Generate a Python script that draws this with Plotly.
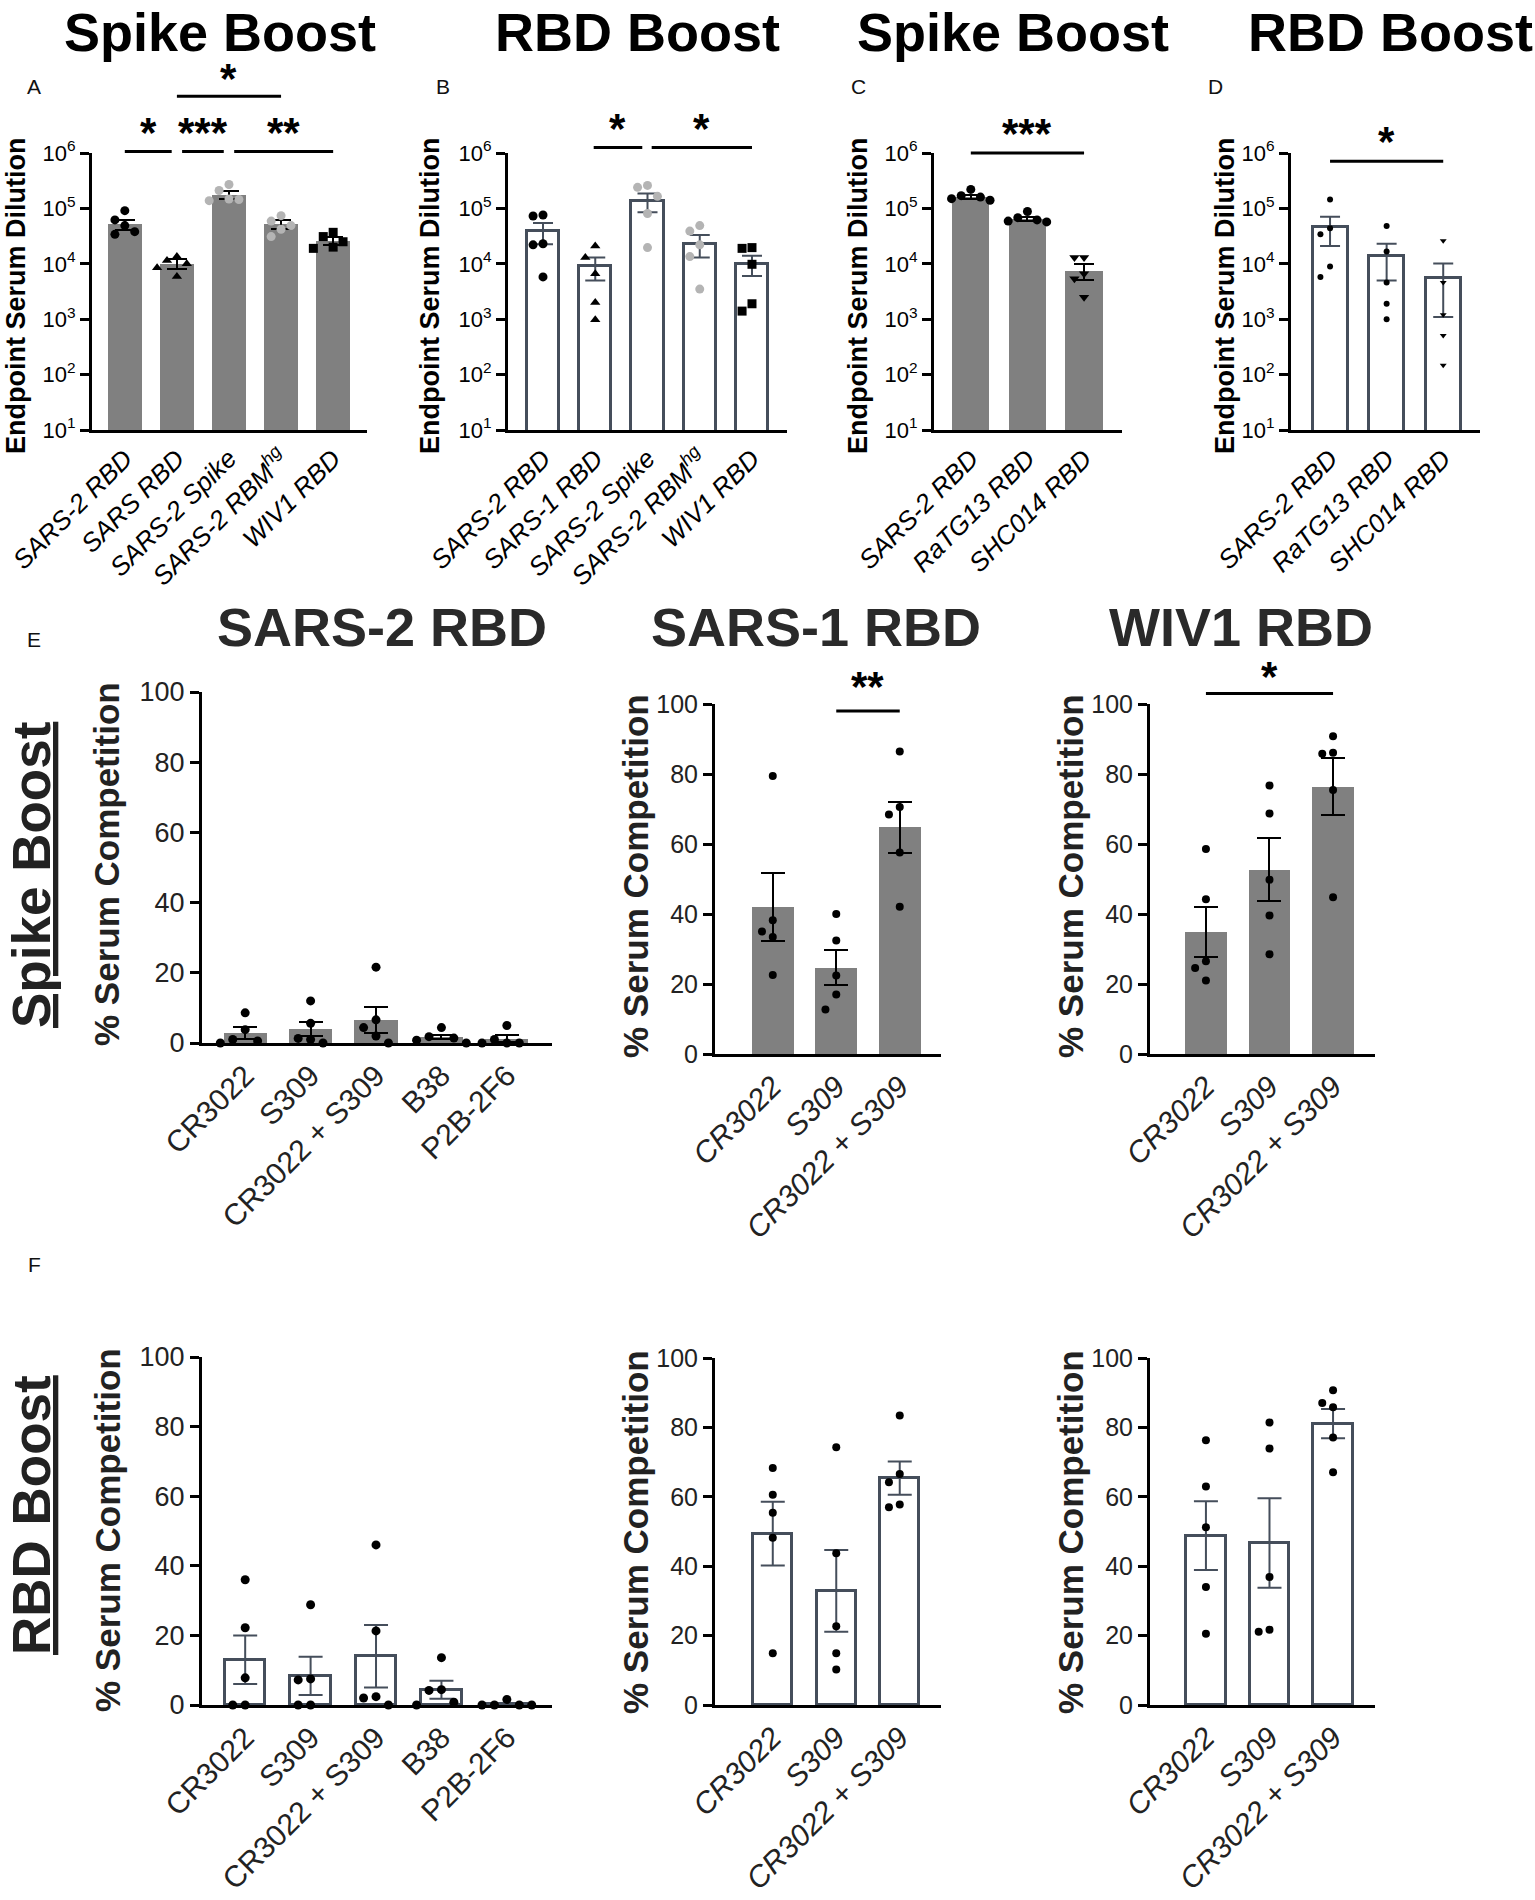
import numpy as np
import plotly.graph_objects as go

W, H = 1535, 1900
FONT = "Liberation Sans, Arial, sans-serif"
GRAY = "#808080"
LIGHT = "#b4b4b4"
SLATE = "#454e5b"

# ---- data ----
# A: spike boost, endpoint titers
a_cats = ["SARS-2 RBD", "SARS RBD", "SARS-2 Spike", "SARS-2 RBM<sup>hg</sup>", "WIV1 RBD"]
a_means = [5.2e4, 1.0e4, 1.75e5, 5.2e4, 2.6e4]
a_sems = [1.1e4, 2.0e3, 3.0e4, 1.0e4, 4.0e3]
a_pts = [[9.1e4, 6.2e4, 4.9e4, 3.8e4, 3.4e4],
         [1.35e4, 1.15e4, 1.0e4, 8.5e3, 5.9e3],
         [2.7e5, 2.1e5, 1.48e5, 1.45e5, 1.38e5],
         [7.4e4, 5.9e4, 4.9e4, 4.2e4, 3.1e4],
         [3.7e4, 3.1e4, 2.5e4, 2.0e4, 1.9e4]]

# B: RBD boost, endpoint titers
b_cats = ["SARS-2 RBD", "SARS-1 RBD", "SARS-2 Spike", "SARS-2 RBM<sup>hg</sup>", "WIV1 RBD"]
b_means = [3.85e4, 9.0e3, 1.35e5, 2.3e4, 1.0e4]
b_sems = [1.6e4, 4.0e3, 5.0e4, 1.0e4, 4.0e3]
b_pts = [[7.6e4, 7.3e4, 2.3e4, 2.2e4, 5.8e3],
         [2.1e4, 1.3e4, 6.6e3, 2.0e3, 980],
         [2.6e5, 2.4e5, 1.65e5, 8.1e4, 1.96e4],
         [4.9e4, 3.9e4, 2.2e4, 1.35e4, 3.5e3],
         [1.96e4, 1.9e4, 9.8e3, 1.9e3, 1.4e3]]

# C: spike boost, sarbecovirus RBDs
c_cats = ["SARS-2 RBD", "RaTG13 RBD", "SHC014 RBD"]
c_means = [1.62e5, 6.5e4, 7.5e3]
c_sems = [1.5e4, 5.0e3, 2.3e3]
c_pts = [[2.2e5, 1.7e5, 1.6e5, 1.5e5, 1.4e5],
         [8.8e4, 6.8e4, 6.2e4, 5.9e4, 5.7e4],
         [1.3e4, 1.3e4, 6.6e3, 5.4e3, 2.5e3]]

# D: RBD boost, sarbecovirus RBDs
d_cats = ["SARS-2 RBD", "RaTG13 RBD", "SHC014 RBD"]
d_means = [4.6e4, 1.4e4, 5.6e3]
d_sems = [2.5e4, 9.0e3, 4.5e3]
d_pts = [[1.45e5, 4.4e4, 3.4e4, 8.9e3, 5.8e3],
         [4.8e4, 1.66e4, 4.6e3, 1.9e3, 1.0e3],
         [2.6e4, 4.6e3, 1.2e3, 510, 148]]

lod = 40

# E/F: % serum competition
mab5 = ["CR3022", "S309", "CR3022 + S309", "B38", "P2B-2F6"]
mab3 = ["CR3022", "S309", "CR3022 + S309"]

e1_means = [2.8, 4.0, 6.6, 1.7, 1.2]
e1_sems = [1.7, 2.1, 3.8, 0.7, 1.0]
e1_pts = [[8.6, 3.8, 1.0, 0.6, 0], [12.0, 5.6, 1.3, 1.0, 0], [21.6, 6.6, 4.4, 2.0, 0],
          [4.4, 1.8, 1.4, 0.8, 0], [5.0, 1.0, 0, 0, 0]]
e2_means = [42.0, 24.6, 64.8]
e2_sems = [9.6, 5.0, 7.3]
e2_pts = [[79.4, 38.2, 35.0, 33.4, 22.6], [40.0, 32.4, 22.4, 17.0, 12.7], [86.4, 70.6, 68.4, 57.6, 42.1]]
e3_means = [34.8, 52.6, 76.4]
e3_sems = [7.2, 9.0, 8.2]
e3_pts = [[58.6, 44.2, 26.5, 24.6, 21.0], [76.7, 68.7, 49.8, 39.6, 28.5], [90.8, 86.1, 85.8, 75.4, 44.8]]

f1_means = [13.0, 8.4, 14.0, 4.4, 0.3]
f1_sems = [7.0, 5.5, 9.0, 2.6, 0.3]
f1_pts = [[36.0, 22.2, 7.8, 0, 0], [28.8, 7.5, 7.2, 0, 0], [46.0, 21.3, 2.4, 2.0, 0],
          [13.6, 4.4, 4.2, 0.8, 0], [1.6, 0, 0, 0, 0]]
f2_means = [49.4, 32.9, 65.4]
f2_sems = [9.2, 11.8, 4.8]
f2_pts = [[68.3, 60.6, 55.4, 48.2, 14.9], [74.3, 43.7, 22.7, 14.9, 10.2], [83.4, 66.6, 64.2, 57.8, 57.0]]
f3_means = [48.8, 46.7, 81.1]
f3_sems = [9.9, 12.9, 4.2]
f3_pts = [[76.3, 63.0, 51.2, 34.0, 20.5], [81.4, 73.9, 36.9, 21.7, 21.1], [90.7, 87.0, 85.8, 77.1, 67.1]]


def px_x(v):
    return v / W


def px_y(v):
    return 1 - v / H


def spread(vals, lo, hi, log=False, step=0.17, gap=0.045):
    # simple beeswarm so overlapping dots sit side by side
    t = np.log10(vals) if log else np.asarray(vals, float)
    t = (t - lo) / (hi - lo)
    offs = np.zeros(len(t))
    placed = []
    for i in np.argsort(-t):
        o = 0.0
        for k in [0, -1, 1, -2, 2, -3, 3]:
            o = k * step
            if all(abs(o - po) >= step * 0.99 or abs(t[i] - pt) >= gap for po, pt in placed):
                break
        offs[i] = o
        placed.append((o, t[i]))
    return offs


fig = go.Figure()
ann = []
shapes = []

# panel geometry in page pixels: x0, x1, ytop, ybottom, xrange
panels = [
    dict(n=1, x=(92, 367), y=(153, 430), xr=(-0.63, 4.65), log=True),
    dict(n=2, x=(508, 787), y=(153, 430), xr=(-0.67, 4.67), log=True),
    dict(n=3, x=(934, 1122), y=(153, 430), xr=(-0.65, 2.67), log=True),
    dict(n=4, x=(1291, 1480), y=(153, 430), xr=(-0.69, 2.65), log=True),
    dict(n=5, x=(202, 552), y=(692, 1043), xr=(-0.66, 4.69), log=False),
    dict(n=6, x=(715, 941), y=(704, 1054), xr=(-0.91, 2.65), log=False),
    dict(n=7, x=(1150, 1375), y=(704, 1054), xr=(-0.88, 2.66), log=False),
    dict(n=8, x=(202, 552), y=(1357, 1705), xr=(-0.66, 4.69), log=False),
    dict(n=9, x=(715, 941), y=(1358, 1705), xr=(-0.91, 2.65), log=False),
    dict(n=10, x=(1150, 1375), y=(1358, 1705), xr=(-0.88, 2.66), log=False),
]

series = [
    (a_cats, a_means, a_sems, a_pts, "gray", ["circle", "triangle-up", "circle", "circle", "square"],
     ["black", "black", LIGHT, LIGHT, "black"], 9),
    (b_cats, b_means, b_sems, b_pts, "white", ["circle", "triangle-up", "circle", "circle", "square"],
     ["black", "black", LIGHT, LIGHT, "black"], 9),
    (c_cats, c_means, c_sems, c_pts, "gray", ["circle", "circle", "triangle-down"], ["black"] * 3, 9),
    (d_cats, d_means, d_sems, d_pts, "white", ["circle", "circle", "triangle-down"], ["black"] * 3, 6),
    (mab5, e1_means, e1_sems, e1_pts, "gray", ["circle"] * 5, ["black"] * 5, 9),
    (mab3, e2_means, e2_sems, e2_pts, "gray", ["circle"] * 3, ["black"] * 3, 8),
    (mab3, e3_means, e3_sems, e3_pts, "gray", ["circle"] * 3, ["black"] * 3, 8),
    (mab5, f1_means, f1_sems, f1_pts, "white", ["circle"] * 5, ["black"] * 5, 9),
    (mab3, f2_means, f2_sems, f2_pts, "white", ["circle"] * 3, ["black"] * 3, 8),
    (mab3, f3_means, f3_sems, f3_pts, "white", ["circle"] * 3, ["black"] * 3, 8),
]

layout_axes = {}
for p, (cats, means, sems, pts, style, syms, cols, msize) in zip(panels, series):
    n = p["n"]
    s = "" if n == 1 else str(n)
    xa, ya = "x" + s, "y" + s
    idx = list(range(len(cats)))
    wide = n in (5, 8)
    if style == "gray":
        fig.add_trace(go.Bar(x=idx, y=means, width=0.66, xaxis=xa, yaxis=ya,
                             marker=dict(color=GRAY, line=dict(width=0)),
                             error_y=dict(type="data", array=sems, color="black",
                                          thickness=2, width=10 if n < 5 else 12)))
    else:
        fig.add_trace(go.Bar(x=idx, y=means, width=0.62, xaxis=xa, yaxis=ya,
                             marker=dict(color="rgba(0,0,0,0)", line=dict(width=3, color=SLATE)),
                             error_y=dict(type="data", array=sems, color=SLATE,
                                          thickness=2, width=10 if n < 5 else 12)))
    lo, hi = (1, 6) if p["log"] else (0, 100)
    for i, vals in enumerate(pts):
        offs = spread(vals, lo, hi, log=p["log"], step=0.17 if len(cats) == 3 else 0.19)
        fig.add_trace(go.Scatter(x=[i + o for o in offs], y=vals, mode="markers", xaxis=xa, yaxis=ya,
                                 cliponaxis=False,
                                 marker=dict(symbol=syms[i], color=cols[i], size=msize, line=dict(width=0))))

    if p["log"]:
        yax = dict(type="log", range=[1, 6], tickvals=[10 ** k for k in range(1, 7)],
                   ticktext=["10<sup>%d</sup>" % k for k in range(1, 7)],
                   tickfont=dict(family=FONT, size=22, color="black"))
        xfont = dict(family=FONT, size=26, color="black")
        ticktext = ["<i>%s</i>" % c for c in cats]
        shapes.append(dict(type="line", xref=xa + " domain", yref=ya, x0=0, x1=1,
                           y0=np.log10(lod), y1=np.log10(lod), layer="below",
                           line=dict(color="black", width=2.5, dash="dot")))
    else:
        yax = dict(range=[0, 100], tickvals=[0, 20, 40, 60, 80, 100],
                   tickfont=dict(family=FONT, size=27 if wide else 25, color="#222"))
        xfont = dict(family=FONT, size=30, color="#222")
        ticktext = cats if wide else ["<i>%s</i>" % c for c in cats]

    layout_axes["xaxis" + s] = dict(domain=[px_x(p["x"][0]), px_x(p["x"][1])], range=list(p["xr"]),
                                    anchor=ya, tickvals=idx, ticktext=ticktext, tickangle=-45,
                                    tickfont=xfont, showline=True, linewidth=3, linecolor="black",
                                    ticks="", showgrid=False, zeroline=False, automargin=False)
    yax.update(domain=[px_y(p["y"][1]), px_y(p["y"][0])], anchor=xa, ticks="outside", ticklen=9,
               tickwidth=3, tickcolor="black", showline=True, linewidth=3, linecolor="black",
               showgrid=False, zeroline=False, automargin=False)
    layout_axes["yaxis" + s] = yax

# significance brackets: (panel, from, to, label, line y (domain), star y (domain))
sig = [
    (1, 0.0, 0.9, "*", 1.005, 1.075), (1, 1.1, 1.9, "***", 1.005, 1.075),
    (1, 2.1, 4.0, "**", 1.005, 1.075), (1, 1.0, 3.0, "*", 1.205, 1.27),
    (2, 0.97, 1.9, "*", 1.02, 1.09), (2, 2.08, 4.0, "*", 1.02, 1.09),
    (3, 0.0, 2.0, "***", 1.0, 1.07),
    (4, 0.0, 2.0, "*", 0.97, 1.04),
    (6, 1.0, 2.0, "**", 0.98, 1.05),
    (7, 0.0, 2.0, "*", 1.03, 1.08),
]
for n, i0, i1, lab, yl, ys in sig:
    s = "" if n == 1 else str(n)
    shapes.append(dict(type="line", xref="x" + s, yref="y" + s + " domain", x0=i0, x1=i1, y0=yl, y1=yl,
                       line=dict(color="black", width=3)))
    ann.append(dict(x=(i0 + i1) / 2, y=ys, xref="x" + s, yref="y" + s + " domain", text="<b>%s</b>" % lab,
                    showarrow=False, yanchor="middle", font=dict(family=FONT, size=42, color="black")))


def text(x, y, t, size, angle=0, color="black", family=FONT, xanchor="center", yanchor="middle"):
    ann.append(dict(x=px_x(x), y=px_y(y), xref="paper", yref="paper", text=t, showarrow=False,
                    textangle=angle, xanchor=xanchor, yanchor=yanchor,
                    font=dict(family=family, size=size, color=color)))


# column headers (top-anchored so they stay inside the page)
for x, t in [(220, "Spike Boost"), (637, "RBD Boost"), (1013, "Spike Boost"), (1390, "RBD Boost")]:
    text(x, 0, "<b>%s</b>" % t, 54, yanchor="top")
for x, t in [(382, "SARS-2 RBD"), (816, "SARS-1 RBD"), (1241, "WIV1 RBD")]:
    text(x, 627, "<b>%s</b>" % t, 54, color="#2a2a2a")

# panel letters
for x, y, t in [(34, 87, "A"), (443, 87, "B"), (858, 87, "C"), (1215, 87, "D"), (34, 640, "E"), (34, 1264, "F")]:
    text(x, y, t, 21, color="#111")

# axis titles
for x in (16, 430, 858, 1225):
    text(x, 296, "<b>Endpoint Serum Dilution</b>", 27, angle=-90)
for x, y in [(107, 864), (635, 876), (1070, 876), (107, 1530), (635, 1532), (1070, 1532)]:
    text(x, y, "<b>% Serum Competition</b>", 35, angle=-90, color="#222")

# row labels
text(31, 875, "<b><u>Spike Boost</u></b>", 53, angle=-90, color="#222")
text(31, 1515, "<b><u>RBD Boost</u></b>", 53, angle=-90, color="#222")

fig.update_layout(width=W, height=H, margin=dict(l=0, r=0, t=0, b=0, autoexpand=False), showlegend=False,
                  plot_bgcolor="white", paper_bgcolor="white", bargap=0,
                  annotations=ann, shapes=shapes, font=dict(family=FONT), **layout_axes)

# drop the default 8px body margin so the figure sits flush with the window
fig.write_html("out.html", config={"displayModeBar": False},
               post_script="document.body.style.margin='0px';")
